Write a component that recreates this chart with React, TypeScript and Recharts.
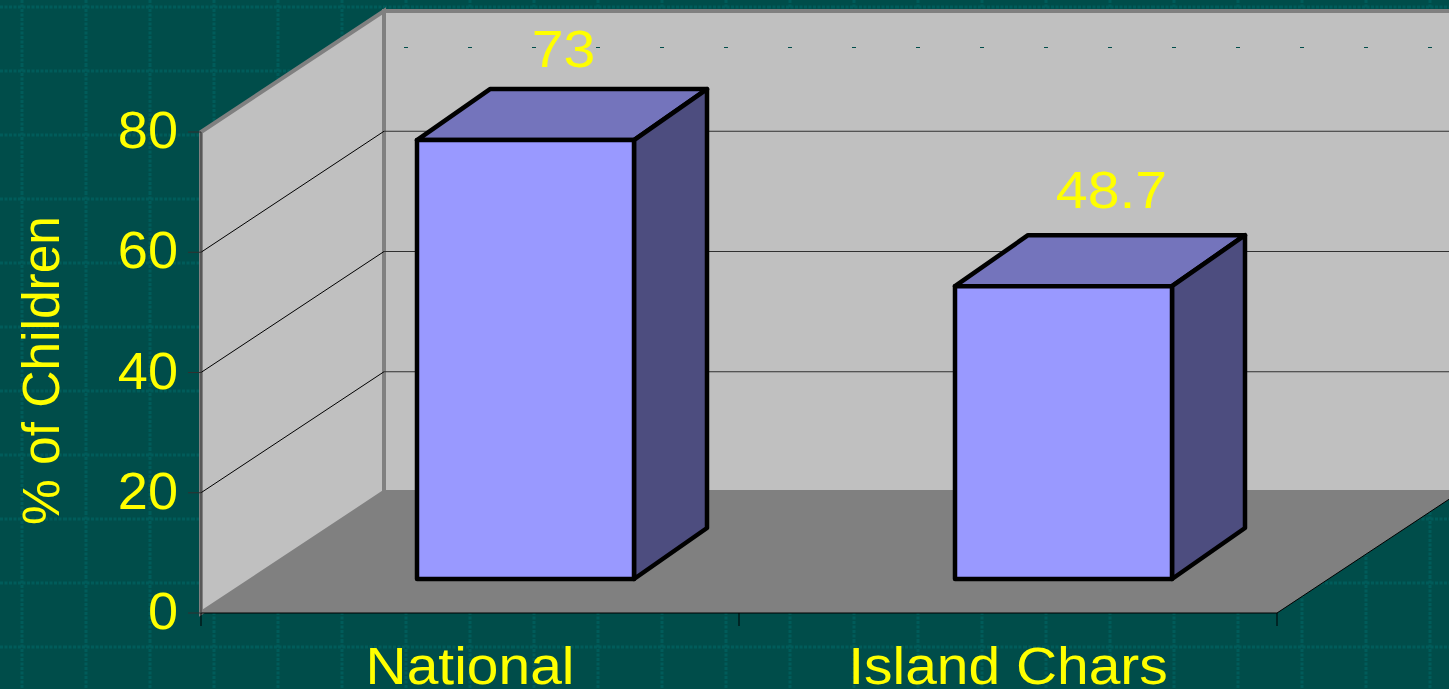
import React from 'react';
import { BarChart, Bar, XAxis, YAxis, CartesianGrid, ReferenceArea, LabelList } from 'recharts';

const categories = ['National', 'Island Chars'];
const values = [73, 48.7];
const yTicks = [0, 20, 40, 60, 80];

const data = categories.map((name, i) => ({ name, value: values[i] }));

const FONT = '"Liberation Sans", Arial, sans-serif';
const YELLOW = '#ffff00';

// depth of the box the chart sits in, and of the bars inside it
const WALL_DX = 183;
const WALL_DY = 121;
const BAR_SHIFT_X = 55;
const BAR_SHIFT_Y = 34;
const BAR_DX = 73;
const BAR_DY = 51;
const LABEL_DX = [38, 48];
const LABEL_DY = [73, 78];

const wallpaper = `url("data:image/svg+xml,${encodeURIComponent(
  '<svg xmlns="http://www.w3.org/2000/svg" width="64" height="64">' +
    '<path d="M22 0V64" stroke="#005c5a" stroke-width="3" stroke-dasharray="3 1.5" fill="none"/>' +
    '<path d="M0 7H64" stroke="#005c5a" stroke-width="3" stroke-dasharray="3 1.5" fill="none"/>' +
    '</svg>'
)}")`;

const pts = (list: number[][]) => list.map((p) => p.join(',')).join(' ');

// the original's text is a little wider than it is tall
const WideText = ({ x, y, stretch, size, anchor = 'middle', rotate = 0, children }: any) => (
  <text
    transform={`translate(${x} ${y}) rotate(${rotate}) scale(${stretch} 1)`}
    textAnchor={anchor}
    fontFamily={FONT}
    fontSize={size}
    fill={YELLOW}
  >
    {children}
  </text>
);

const Box = ({ x, y, width, height }: any) => {
  const bottom = y + height;
  const right = x + width;
  return (
    <g>
      <polygon
        points={pts([[x, y], [x + WALL_DX, y - WALL_DY], [x + WALL_DX, bottom - WALL_DY], [x, bottom]])}
        fill="#c0c0c0"
        stroke="#808080"
        strokeWidth={4}
      />
      <rect
        x={x + WALL_DX}
        y={y - WALL_DY}
        width={width}
        height={height}
        fill="#c0c0c0"
        stroke="#808080"
        strokeWidth={4}
      />
      <line
        x1={x + WALL_DX + 20}
        x2={x + WALL_DX + width}
        y1={y - 84.5}
        y2={y - 84.5}
        stroke="#004d4a"
        strokeWidth={1}
        strokeDasharray="4 60"
      />
      <polygon
        points={pts([[x, bottom], [right, bottom], [right + WALL_DX, bottom - WALL_DY], [x + WALL_DX, bottom - WALL_DY]])}
        fill="#808080"
      />
      <line x1={right} y1={bottom} x2={right + WALL_DX} y2={bottom - WALL_DY} stroke="#000000" strokeWidth={1} />
    </g>
  );
};

const GridLine = ({ x1, x2, y1 }: any) => {
  if (y1 > 600 || y1 < 140) {
    return <g />;
  }
  const bx = x1 + WALL_DX;
  const by = y1 - WALL_DY;
  return (
    <g>
      <line x1={x1} y1={y1} x2={bx} y2={by} stroke="#000000" strokeWidth={1} />
      <line x1={bx} y1={by} x2={x2 + WALL_DX} y2={by} stroke="#303030" strokeWidth={1} />
    </g>
  );
};

const Bar3D = ({ x, y, width, height }: any) => {
  const l = x + BAR_SHIFT_X;
  const r = l + width;
  const t = y - BAR_SHIFT_Y;
  const b = t + height;
  return (
    <g stroke="#000000" strokeWidth={4.5} strokeLinejoin="round">
      <polygon points={pts([[l, t], [r, t], [r + BAR_DX, t - BAR_DY], [l + BAR_DX, t - BAR_DY]])} fill="#7474bc" />
      <polygon points={pts([[r, t], [r + BAR_DX, t - BAR_DY], [r + BAR_DX, b - BAR_DY], [r, b]])} fill="#4d4d7f" />
      <rect x={l} y={t} width={width} height={height} fill="#9999ff" />
    </g>
  );
};

const ValueLabel = ({ x, y, width, value, index }: any) => (
  <WideText
    x={x + BAR_SHIFT_X + width / 2 + LABEL_DX[index]}
    y={y - BAR_SHIFT_Y - LABEL_DY[index]}
    size={52}
    stretch={1.1}
  >
    {value}
  </WideText>
);

const CategoryTick = ({ x, y, payload, index }: any) => {
  const half = 269;
  const top = y - 8;
  return (
    <g>
      <line x1={x - half} y1={top} x2={x - half} y2={top + 13} stroke="#000000" strokeWidth={1} />
      {index === categories.length - 1 && (
        <line x1={x + half} y1={top} x2={x + half} y2={top + 13} stroke="#000000" strokeWidth={1} />
      )}
      <WideText x={x} y={top + 71} size={52} stretch={1.095}>
        {payload.value}
      </WideText>
    </g>
  );
};

const ValueTick = ({ x, y, payload }: any) => (
  <WideText x={x} y={y + 16} size={52} stretch={1.04} anchor="end">
    {payload.value}
  </WideText>
);

const SideTitle = ({ viewBox }: any) => (
  <WideText x={59} y={viewBox.y + viewBox.height / 2 - 2} size={52} stretch={0.99} rotate={-90}>
    % of Children
  </WideText>
);

export default function App() {
  return (
    <div
      style={{
        position: 'absolute',
        left: 0,
        top: 0,
        width: 1449,
        height: 689,
        overflow: 'hidden',
        backgroundColor: '#004d4a',
        backgroundImage: wallpaper,
      }}
    >
      <BarChart
        width={1449}
        height={689}
        data={data}
        margin={{ top: 132, right: 172, left: 0, bottom: 0 }}
        barSize={217}
      >
        <ReferenceArea x1={categories[0]} x2={categories[1]} y1={0} y2={80} shape={<Box />} zIndex={-200} />
        <CartesianGrid vertical={false} horizontal={(props: any) => <GridLine {...props} />} />
        <XAxis
          dataKey="name"
          height={76}
          interval={0}
          stroke="#000000"
          tickLine={false}
          tick={<CategoryTick />}
        />
        <YAxis
          width={201}
          domain={[0, 80]}
          ticks={yTicks}
          stroke="#303030"
          tickSize={13}
          tickMargin={10}
          tick={<ValueTick />}
          label={<SideTitle />}
        />
        <Bar dataKey="value" shape={<Bar3D />} isAnimationActive={false}>
          <LabelList dataKey="value" content={<ValueLabel />} />
        </Bar>
      </BarChart>
    </div>
  );
}
